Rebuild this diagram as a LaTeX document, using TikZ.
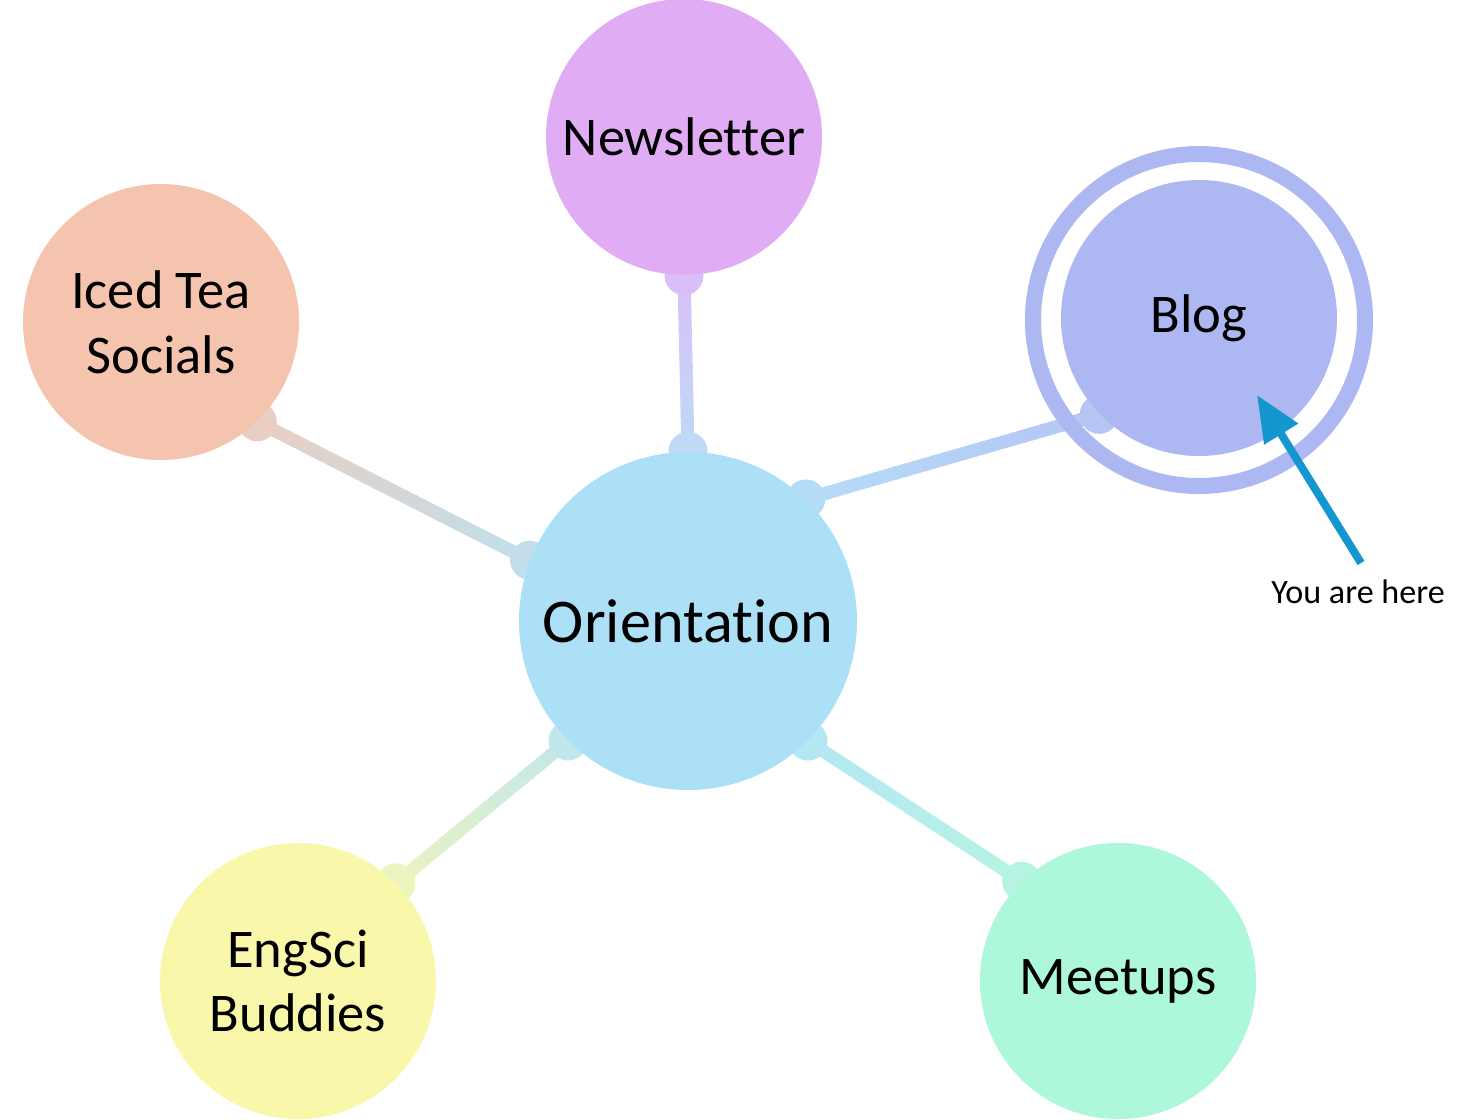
\documentclass[tikz,border=0pt]{standalone}
\usepackage{fontspec}
\setmainfont{Carlito}[Ligatures=NoCommon]
\usetikzlibrary{calc,arrows.meta}

\pgfdeclarelayer{back}
\pgfsetlayers{back,main}

\definecolor{orient}{HTML}{ACE0F7}
\definecolor{news}{HTML}{E0ADF5}
\definecolor{icedtea}{HTML}{F5C4AE}
\definecolor{blog}{HTML}{ADB8F3}
\definecolor{buddies}{HTML}{F9F7AA}
\definecolor{meetup}{HTML}{ADF7DA}
\definecolor{pointer}{HTML}{1496CE}

% spoke between two bubbles (node, border angle, colour for each end),
% shaded from one colour to the other
\newcommand{\spoke}[6]{%
    \coordinate (#1-#4) at (#1.#2);
    \coordinate (#4-#1) at (#4.#5);
    \foreach \k in {0,...,29}{
        \pgfmathtruncatemacro{\mix}{80-60*\k/29}
        \colorlet{seg}{#3!\mix!#6}
        \draw[seg!90!white, line width=.13cm]
            ($(#1-#4)!{\k/30}!(#4-#1)$) -- ($(#1-#4)!{(\k+1.4)/30}!(#4-#1)$);
    }
    \colorlet{seg}{#3!80!#6}
    \fill[seg!90!white] (#1-#4) circle (.195);
    \colorlet{seg}{#6!80!#3}
    \fill[seg!90!white] (#4-#1) circle (.195);
}

\tikzset{
    bubble/.style={circle, inner sep=0pt, minimum size=2.76cm, align=center,
        font=\fontsize{15.5}{18.4}\selectfont},
    hub/.style={bubble, minimum size=3.38cm, font=\fontsize{17.7}{21}\selectfont},
    youarehere/.style={draw=pointer, line width=.08cm,
        -{Triangle[length=.46cm,width=.38cm]}}
}

\begin{document}
\begin{tikzpicture}
    \useasboundingbox (0,0) rectangle (14.69,-11.19);

    \node[hub, fill=orient] (orientation) at (6.88,-6.21) {Orientation};
    \node[bubble, fill=news] (newsletter) at (6.84,-1.37) {Newsletter};
    \node[bubble, fill=icedtea] (icedtea) at (1.61,-3.22) {Iced Tea\\Socials};
    \node[circle, inner sep=0pt, minimum size=3.32cm, draw=blog, line width=.16cm]
        (blogring) at (11.99,-3.20) {};
    \node[bubble, fill=blog] (blog) at (11.99,-3.18) {Blog};
    \node[bubble, fill=buddies] (buddies) at (2.98,-9.81) {EngSci\\Buddies};
    \node[bubble, fill=meetup] (meetups) at (11.18,-9.81) {Meetups};

    \begin{pgfonlayer}{back}
        \spoke{newsletter}{270}{news}{orientation}{90}{orient}
        \spoke{icedtea}{314}{icedtea}{orientation}{159}{orient}
        \spoke{orientation}{46}{orient}{blog}{224}{blog}
        \spoke{buddies}{45}{buddies}{orientation}{225}{orient}
        \spoke{orientation}{315}{orient}{meetups}{134}{meetup}
    \end{pgfonlayer}

    % pointer to the current page
    \node[font=\fontsize{9.7}{11}\selectfont, inner sep=0pt] (here) at (13.58,-5.92) {You are here};
    \coordinate (tail) at (13.61,-5.63);
    \coordinate (tip) at (12.57,-3.95);
    \draw[youarehere] (tail) -- (tip);
\end{tikzpicture}
\end{document}
